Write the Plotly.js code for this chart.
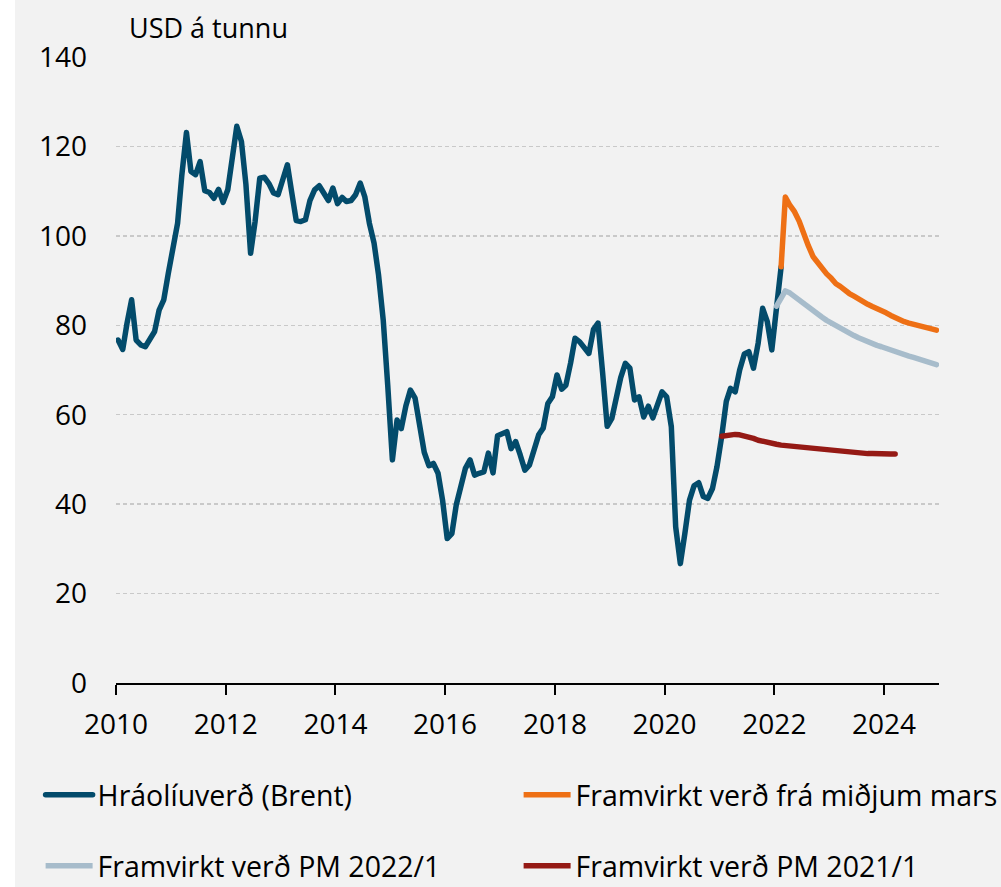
<!DOCTYPE html>
<html>
<head>
<meta charset="utf-8">
<script src="https://cdn.plot.ly/plotly-3.0.1.min.js"></script>
<style>
  html, body { margin: 0; padding: 0; background: #ffffff; }
  #chart { position: absolute; left: 15px; top: 0; width: 986px; height: 887px; }
  #chart .scatterlayer .js-line, #chart .legend .js-line { stroke-linejoin: round; stroke-linecap: round; }
</style>
</head>
<body>
<div id="chart"></div>
<script>
// Monthly series (points plotted mid-month)
const brentStart = [2010, 1];
const brentValues = [
  76.7, 74.6, 80.4, 85.7, 76.7, 75.6, 75.2, 76.7, 78.6, 83.4, 85.7, 91.6,
  96.5, 102.8, 113.5, 123.1, 114.4, 113.7, 116.6, 110.1, 109.7, 108.4, 110.4, 107.5,
  110.3, 118.5, 124.5, 121.1, 111.5, 96.1, 103.2, 112.9, 113.1, 111.7, 109.6, 109.2,
  112.5, 115.9, 109.9, 103.4, 103.2, 103.6, 107.9, 110.3, 111.2, 109.6, 107.9, 110.7,
  107.2, 108.6, 107.7, 107.9, 109.2, 111.8, 108.8, 102.8, 98.4, 91.2, 81.2, 66.6,
  49.9, 58.8, 56.9, 62.0, 65.5, 63.7, 58.1, 51.6, 48.6, 49.1, 46.9, 40.9,
  32.3, 33.4, 39.8, 43.9, 48.0, 49.9, 46.5, 46.9, 47.2, 51.4, 47.0, 55.3,
  55.9, 56.2, 52.4, 54.0, 51.0, 47.6, 48.7, 51.7, 55.5, 57.0, 62.5, 64.0,
  68.9, 65.7, 66.6, 71.5, 77.1, 76.3, 75.2, 73.7, 79.1, 80.5, 69.2, 57.4,
  59.2, 64.0, 68.3, 71.5, 70.4, 63.3, 64.0, 59.5, 61.9, 59.3, 62.5, 65.1,
  64.0, 57.3, 34.9, 26.7, 33.4, 40.9, 44.1, 44.8, 41.7, 41.3, 43.5, 48.4,
  55.1, 63.0, 65.9, 65.1, 70.0, 73.6, 74.1, 70.4, 76.0, 83.8, 80.8, 74.5,
  83.8, 93.1
];

const marsStart = [2022, 2];
const marsValues = [
  93.1, 108.7, 106.8, 105.4, 103.3, 100.3, 97.8, 95.4, 94.0, 92.6, 91.5,
  90.5, 89.3, 88.7, 87.8, 87.1, 86.5, 85.8, 85.3, 84.7, 84.2, 83.8, 83.3,
  82.8, 82.2, 81.7, 81.2, 80.8, 80.5, 80.2, 80.0, 79.7, 79.4, 79.2, 78.9
];

const pm2022Start = [2022, 1];
const pm2022Values = [
  84.3, 86.0, 87.7, 87.2, 86.4, 85.6, 84.9, 84.0, 83.3, 82.5, 81.8, 81.1,
  80.5, 79.8, 79.2, 78.7, 78.2, 77.7, 77.2, 76.7, 76.3, 75.9, 75.5, 75.2,
  74.8, 74.4, 74.1, 73.7, 73.3, 73.1, 72.8, 72.5, 72.2, 71.9, 71.6, 71.2
];

const pm2021Start = [2021, 1];
const pm2021Values = [
  55.2, 55.4, 55.5, 55.6, 55.5, 55.3, 55.0, 54.7, 54.3, 54.0, 53.8, 53.6,
  53.4, 53.2, 53.1, 53.0, 52.9, 52.7, 52.6, 52.5, 52.4, 52.2, 52.1, 52.0,
  51.9, 51.8, 51.7, 51.6, 51.5, 51.5, 51.4, 51.4, 51.3, 51.3, 51.2, 51.2,
  51.2, 51.2, 51.2
];

const seriesNames = [
  'Hráolíuverð (Brent)',
  'Framvirkt verð frá miðjum mars',
  'Framvirkt verð PM 2022/1',
  'Framvirkt verð PM 2021/1'
];
const yTickVals = [0, 20, 40, 60, 80, 100, 120, 140];
const xTickYears = [2010, 2012, 2014, 2016, 2018, 2020, 2022, 2024];
const yUnit = 'USD á tunnu';

function monthDates(start, n) {
  const out = [];
  let y = start[0], m = start[1];
  for (let i = 0; i < n; i++) {
    out.push(y + '-' + String(m).padStart(2, '0') + '-15');
    m++; if (m > 12) { m = 1; y++; }
  }
  return out;
}

const FONT = 'Open Sans, Noto Sans, sans-serif';
const LW = 5.5;

const traces = [
  { x: monthDates(brentStart, brentValues.length), y: brentValues, name: seriesNames[0],
    type: 'scatter', mode: 'lines', line: { color: '#034b6b', width: LW },
    legend: 'legend' },
  { x: monthDates(pm2021Start, pm2021Values.length), y: pm2021Values, name: seriesNames[3],
    type: 'scatter', mode: 'lines', line: { color: '#951a15', width: LW },
    legend: 'legend4' },
  { x: monthDates(pm2022Start, pm2022Values.length), y: pm2022Values, name: seriesNames[2],
    type: 'scatter', mode: 'lines', line: { color: '#a7bccb', width: LW },
    legend: 'legend3' },
  { x: monthDates(marsStart, marsValues.length), y: marsValues, name: seriesNames[1],
    type: 'scatter', mode: 'lines', line: { color: '#ee7015', width: LW },
    legend: 'legend2' }
];

function legendAt(x, y) {
  return {
    x: x, y: y, xanchor: 'left', yanchor: 'middle', orientation: 'h',
    bgcolor: 'rgba(0,0,0,0)', borderwidth: 0,
    font: { family: FONT, size: 28.5, color: '#000000' },
    itemwidth: 47
  };
}

const layout = {
  width: 986, height: 887,
  paper_bgcolor: '#f2f2f2', plot_bgcolor: '#f2f2f2',
  margin: { l: 100.5, r: 62, t: 57, b: 204, pad: 0, autoexpand: false },
  font: { family: FONT, size: 28, color: '#000000' },
  showlegend: true,
  xaxis: {
    type: 'date', range: ['2010-01-01', '2025-01-01'],
    tickvals: xTickYears.map(y => y + '-01-01'),
    ticktext: xTickYears.map(String),
    showgrid: false, zeroline: false,
    showline: true, linecolor: '#000000', linewidth: 2,
    ticks: 'outside', ticklen: 10, tickwidth: 2, tickcolor: '#000000',
    ticklabelstandoff: 5,
    tickfont: { family: FONT, size: 28, color: '#000000' }
  },
  yaxis: {
    range: [0, 140], tickvals: yTickVals, ticktext: yTickVals.map(String),
    showgrid: true, gridcolor: '#c9c9c9', gridwidth: 1.3, griddash: '4px,3px',
    zeroline: false, showline: false, ticks: '',
    ticklabelstandoff: 28,
    tickfont: { family: FONT, size: 28, color: '#000000' }
  },
  legend: legendAt(-0.0916, -0.1794),
  legend2: legendAt(0.4892, -0.1794),
  legend3: legendAt(-0.0916, -0.2928),
  legend4: legendAt(0.4892, -0.2928),
  annotations: [{
    text: yUnit, xref: 'paper', yref: 'paper',
    x: 0.0135, y: 1.0469, xanchor: 'left', yanchor: 'middle',
    showarrow: false, font: { family: FONT, size: 27, color: '#000000' }
  }]
};

Plotly.newPlot('chart', traces, layout, { displayModeBar: false, staticPlot: true });
</script>
</body>
</html>
